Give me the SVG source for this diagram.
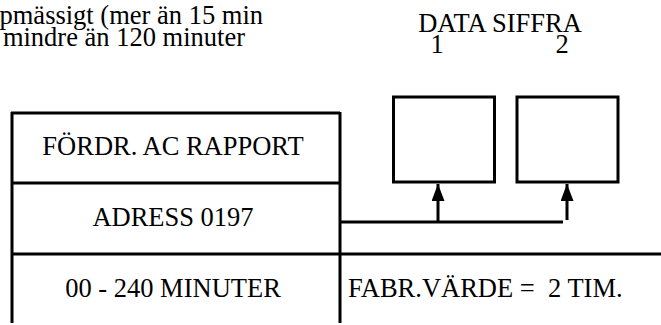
<svg xmlns="http://www.w3.org/2000/svg" width="661" height="325" viewBox="0 0 661 325">
<style>
text{font-family:"Liberation Serif","Times New Roman",serif;font-size:26.5px;fill:#000}
.c{text-anchor:middle}
.e{text-anchor:end}
.s{stroke:#000;stroke-width:3;fill:none}
</style>
<defs>
<marker id="ah" viewBox="0 0 17 13" refX="17" refY="6.5" markerWidth="17" markerHeight="13" markerUnits="userSpaceOnUse" orient="auto">
<path d="M0,0 L17,6.5 L0,13 Z" fill="#000"/>
</marker>
</defs>
<rect width="661" height="325" fill="#fff"/>
<g id="note">
<text class="e" x="263" y="24">mpmässigt (mer än 15 min</text>
<text class="e" x="245" y="46">mindre än 120 minuter</text>
</g>
<g id="header">
<text class="c" x="500" y="32">DATA SIFFRA</text>
<text class="c" x="437" y="53">1</text>
<text class="c" x="562" y="53">2</text>
</g>
<g id="table" class="s">
<line x1="12" y1="112" x2="12" y2="323"/>
<line x1="340" y1="112" x2="340" y2="323"/>
<line x1="11" y1="113" x2="340" y2="113"/>
<line x1="11" y1="183" x2="340" y2="183"/>
<line x1="11" y1="254" x2="661" y2="254"/>
</g>
<g id="title"><text class="c" x="173" y="155">FÖRDR. AC RAPPORT</text></g>
<g id="address"><text class="c" x="173" y="226">ADRESS 0197</text></g>
<g id="range"><text class="c" x="173" y="297">00 - 240 MINUTER</text></g>
<g id="default"><text x="348" y="297" xml:space="preserve">FABR.VÄRDE =  2 TIM.</text></g>
<g id="digit1"><rect class="s" x="393.5" y="97" width="101" height="85"/></g>
<g id="digit2"><rect class="s" x="517" y="97" width="101" height="85"/></g>
<g id="connectors" class="s">
<line x1="340" y1="222" x2="563" y2="222"/>
<line x1="438" y1="222" x2="438" y2="184" marker-end="url(#ah)"/>
<line x1="567" y1="220" x2="567" y2="184" marker-end="url(#ah)"/>
</g>
</svg>
